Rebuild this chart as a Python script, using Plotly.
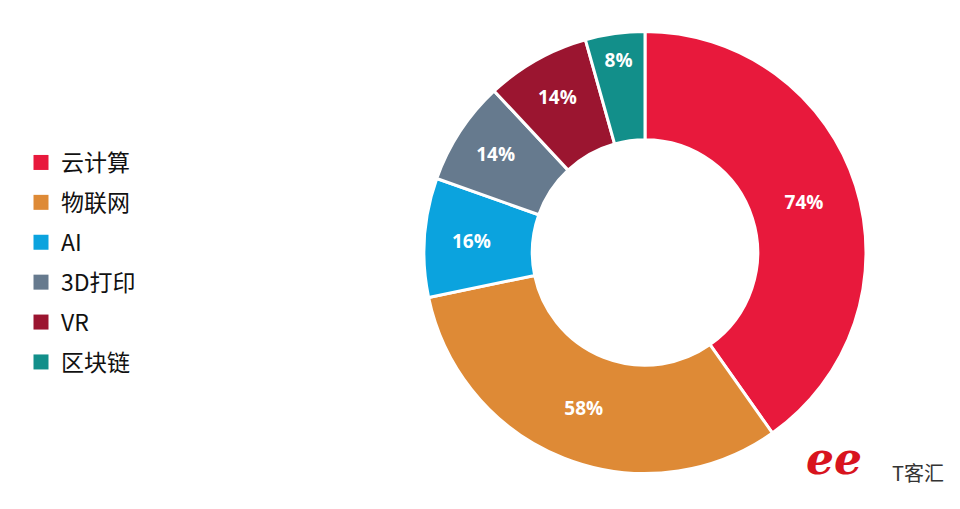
import plotly.graph_objects as go

labels = ["云计算", "物联网", "AI", "3D打印", "VR", "区块链"]
values = [74, 58, 16, 14, 14, 8]
colors = ["#E8193C", "#DE8A36", "#0BA3DE", "#667A8E", "#9B1530", "#128F8A"]

cx, cy, r = 637, 264.5, 221

fig = go.Figure()
fig.add_trace(go.Pie(
    labels=labels,
    values=values,
    sort=False,
    direction="clockwise",
    rotation=0,
    hole=0.51,
    showlegend=False,
    marker=dict(colors=colors, line=dict(color="white", width=3)),
    texttemplate="%{value}%",
    textposition="inside",
    insidetextorientation="horizontal",
    textfont=dict(family="Open Sans", size=19, color="white", weight="bold"),
    domain=dict(x=[(cx - r) / 960, (cx + r) / 960],
                y=[(cy - r) / 509, (cy + r) / 509]),
))

# legend entries (square swatches), one group each so they can be spaced
for lab, col in zip(labels, colors):
    fig.add_trace(go.Scatter(
        x=[None], y=[None], mode="markers", name=lab,
        legendgroup=lab, showlegend=True,
        marker=dict(symbol="square", size=15, color=col),
    ))

fig.update_layout(
    width=960, height=509,
    margin=dict(l=0, r=0, t=0, b=0),
    paper_bgcolor="white",
    plot_bgcolor="white",
    xaxis=dict(visible=False),
    yaxis=dict(visible=False),
    legend=dict(
        x=13 / 960, y=1 - 133 / 509, xanchor="left", yanchor="top",
        font=dict(family="Noto Sans CJK SC", size=23, color="#111111"),
        bgcolor="rgba(0,0,0,0)",
        tracegroupgap=7,
        itemclick=False,
    ),
    annotations=[
        dict(text="<i><b>ee</b></i>", x=856 / 960, y=1 - 478 / 509, xref="paper", yref="paper",
             showarrow=False, font=dict(family="DejaVu Serif", size=44, color="#D8141E")),
        dict(text="T客汇", x=938 / 960, y=1 - 481 / 509, xref="paper", yref="paper",
             showarrow=False, font=dict(family="Noto Sans CJK SC", size=20, color="#333333")),
    ],
)

fig.write_html("out.html")
